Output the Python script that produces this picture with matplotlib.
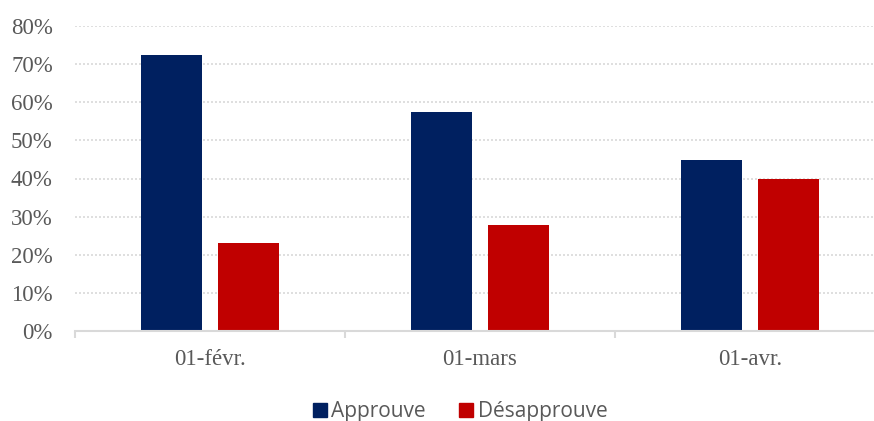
import matplotlib
matplotlib.use("Agg")
import matplotlib.pyplot as plt
from matplotlib.lines import Line2D
from matplotlib.ticker import PercentFormatter
import numpy as np

# Data
dates = ['01-févr.', '01-mars', '01-avr.']
approuve = [72.4, 57.5, 44.9]
desapprouve = [23.1, 27.8, 40.0]
yticks = [0, 10, 20, 30, 40, 50, 60, 70, 80]

navy = '#002060'
red = '#C00000'
grey_txt = '#595959'
grey_line = '#D9D9D9'

W, H = 874, 421
fig = plt.figure(figsize=(W / 100, H / 100), dpi=100)
# axes spans x 75..885 px (slightly beyond the canvas), y 26..331 px
ax = fig.add_axes([75 / W, (H - 331) / H, (885 - 75) / W, (331 - 26) / H])

x = np.arange(len(dates))
width = 0.226
offset = 0.1426
ax.bar(x - offset, approuve, width, color=navy, label='Approuve', zorder=3)
ax.bar(x + offset, desapprouve, width, color=red, label='Désapprouve', zorder=3)

ax.set_xlim(-0.5, 2.5)
ax.set_ylim(0, 80)
ax.set_yticks(yticks)
ax.yaxis.set_major_formatter(PercentFormatter(decimals=0))

# dotted horizontal grid
for v in yticks[1:]:
    ax.axhline(v, color=grey_line, linestyle=(0, (1.2, 1.2)), linewidth=1.2, zorder=1)

for s in ['top', 'right', 'left']:
    ax.spines[s].set_visible(False)
ax.spines['bottom'].set_color(grey_line)
ax.spines['bottom'].set_linewidth(1.5)
ax.spines['bottom'].set_zorder(4)

ax.set_xticks(x)
ax.set_xticklabels(dates)
ax.set_xticks([-0.5, 0.5, 1.5], minor=True)
ax.tick_params(axis='x', which='major', length=0, pad=13)
ax.tick_params(axis='x', which='minor', length=5, width=1.5, color=grey_line)
ax.tick_params(axis='y', length=0, pad=16)

for lab in ax.get_xticklabels() + ax.get_yticklabels():
    lab.set_family('Liberation Serif')
    lab.set_fontsize(16.5)
    lab.set_color(grey_txt)

handles = [
    Line2D([], [], marker='s', linestyle='none', markersize=10, color=navy, label='Approuve'),
    Line2D([], [], marker='s', linestyle='none', markersize=10, color=red, label='Désapprouve'),
]
fig.legend(handles=handles, loc='center', bbox_to_anchor=(459 / W, (H - 412) / H),
           ncol=2, frameon=False, handletextpad=0.1, columnspacing=1.5,
           handlelength=0.9, prop={'family': 'Open Sans', 'size': 15},
           labelcolor=grey_txt)

fig.savefig('out.png', dpi=100)
